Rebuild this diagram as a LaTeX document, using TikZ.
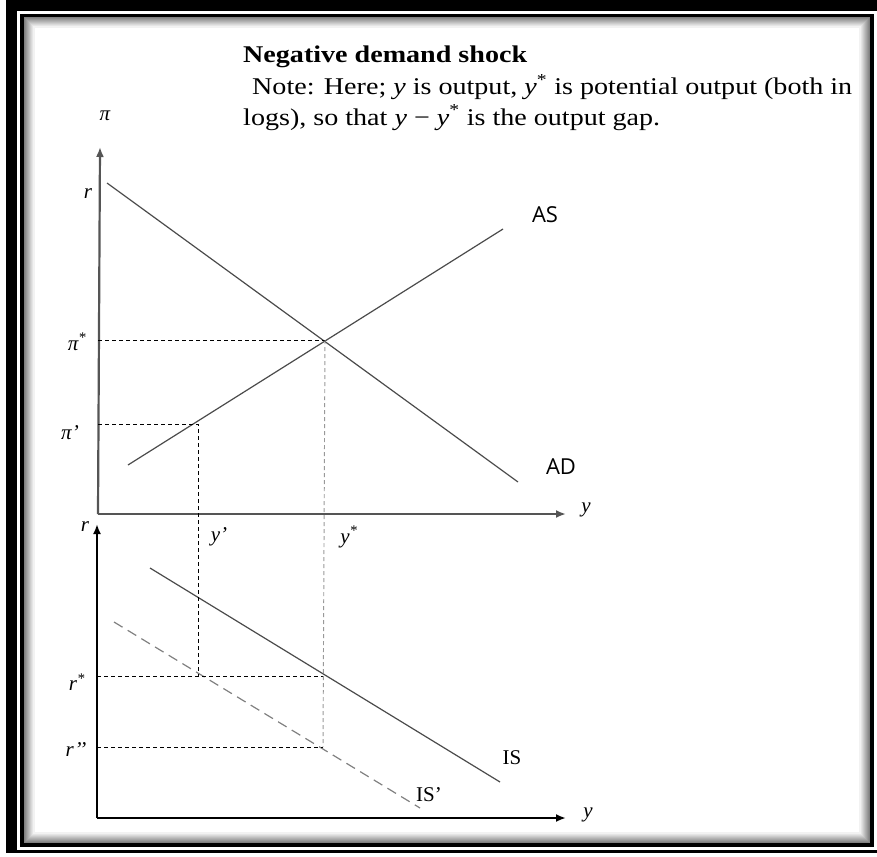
\documentclass[tikz,border=0pt]{standalone}
\usepackage{fontspec}
\setmainfont{Liberation Serif}
\newfontfamily\curvefont{Open Sans}
\usetikzlibrary{arrows.meta}
\definecolor{AxisGray}{RGB}{85,85,85}
\definecolor{CurveGray}{RGB}{75,75,75}
\newcommand\wide[1]{\scalebox{1.17}[1]{#1}}
\tikzset{
  axis/.style={line width=2.2pt, AxisGray, -{Latex[length=10pt,width=8pt]}},
  curve/.style={line width=1.2pt, CurveGray},
  shiftcurve/.style={line width=1.2pt, gray, dash pattern=on 10pt off 6pt},
  guide/.style={line width=0.95pt, dash pattern=on 4pt off 3pt},
  guidegray/.style={guide, gray!80},
  axlabel/.style={font=\fontsize{21}{25}\selectfont\itshape, inner sep=0pt},
  islabel/.style={font=\fontsize{21}{25}\selectfont, inner sep=0pt},
  curvelabel/.style={font=\curvefont\fontsize{22}{26}\selectfont, inner sep=0pt},
  notetext/.style={font=\fontsize{24}{28}\selectfont, anchor=base west, inner sep=0pt},
}

\begin{document}
\begin{tikzpicture}[x=1pt, y=-1pt]
\useasboundingbox (0,0) rectangle (877,856);
% frame with inner shadow
\fill[black] (6,0) rectangle (877,11);
\fill[black] (6,0) rectangle (17,853);
\fill[black] (6,850) rectangle (877,853);
\foreach \i in {0,...,10} {
  \pgfmathtruncatemacro\shade{55-5*\i}
  \draw[line width=1.3pt, black!\shade] (24+\i,17+\i) rectangle (870-\i,843-\i);
}
\draw[line width=3.5pt] (22,15.5) rectangle (872,845);

% title and note
\node[notetext, font=\fontsize{24}{28}\selectfont\bfseries] (title) at (243,63) {\wide{Negative demand shock}};
\node[notetext] (note1) at (252,95) {\wide{Note: Here; \textit{y} is output, \textit{y}\textsuperscript{*} is potential output (both in}};
\node[notetext] (note2) at (243,125) {\wide{logs), so that \textit{y} − \textit{y}\textsuperscript{*} is the output gap.}};

% upper panel
\coordinate (Otop) at (98,514);
\coordinate (piTip) at (100,147);
\coordinate (yTipTop) at (566,514);
\coordinate (ADa) at (107,183);
\coordinate (ADb) at (518,482);
\coordinate (ASa) at (128,465);
\coordinate (ASb) at (503,229);
\coordinate (E) at (325,340);
\coordinate (Ep) at (198,424);

% lower panel
\coordinate (Obot) at (97,818);
\coordinate (rTip) at (97,524);
\coordinate (yTipBot) at (566,818);
\coordinate (ISa) at (150,568);
\coordinate (ISb) at (500,782);
\coordinate (ISpa) at (114,622);
\coordinate (ISpb) at (420,808);
\coordinate (Rstar) at (323,676);
\coordinate (Rpp) at (323,747);

\draw[axis] (Otop) -- (piTip);
\draw[axis] (Otop) -- (yTipTop);
\draw[axis, black] (Obot) -- (rTip);
\draw[axis, black] (Obot) -- (yTipBot);

\draw[curve] (ADa) -- (ADb);
\draw[curve] (ASa) -- (ASb);
\draw[curve] (ISa) -- (ISb);
\draw[shiftcurve] (ISpa) -- (ISpb);

\draw[guide] (Otop |- E) -- (E);
\draw[guide] (Otop |- Ep) -- (Ep) -- (Ep |- Rstar);
\draw[guide] (Obot |- Rstar) -- (Rstar);
\draw[guide] (Obot |- Rpp) -- (Rpp);
\draw[guidegray] (E) -- (Rpp);

\node[axlabel] (pilab) at (105,116) {π};
\node[axlabel] (rtop) at (88,194) {r};
\node[axlabel] (pistar) at (77,342) {π\textsuperscript{*}};
\node[axlabel] (piprime) at (70,433) {π’};
\node[axlabel] (yprime) at (219,537) {y’};
\node[axlabel] (ystar) at (349,537) {y\textsuperscript{*}};
\node[axlabel] (ytop) at (586,510) {y};
\node[axlabel] (rbot) at (85,527) {r};
\node[axlabel] (rstar) at (77,682) {r\textsuperscript{*}};
\node[axlabel] (rpp) at (76,750) {r’’};
\node[axlabel] (ybot) at (588,815) {y};

\node[curvelabel] (aslab) at (545,215) {AS};
\node[curvelabel] (adlab) at (561,467) {AD};
\node[islabel] (islab) at (512,758) {IS};
\node[islabel] (isplab) at (429,795) {IS’};
\end{tikzpicture}
\end{document}
